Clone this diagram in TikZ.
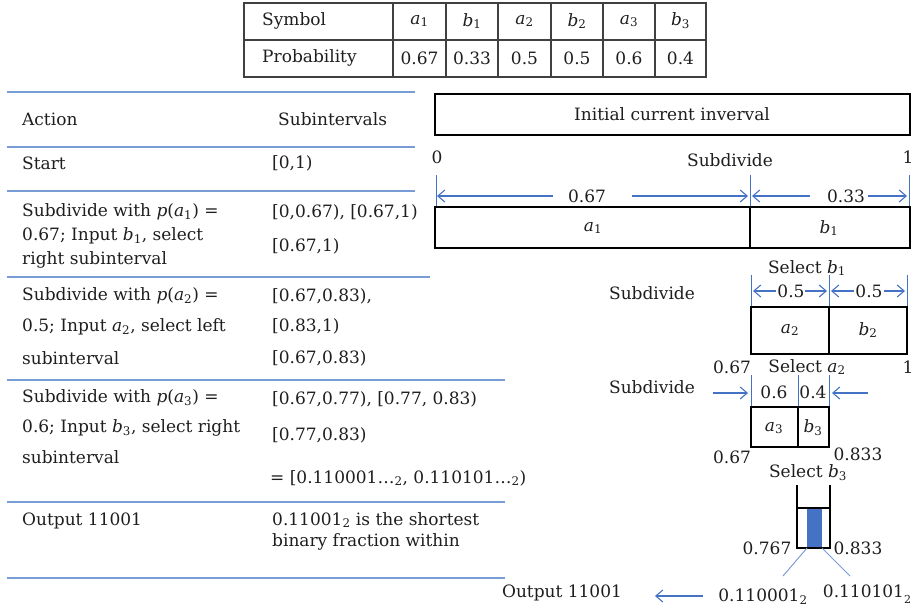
\documentclass[tikz,border=0pt]{standalone}
\usepackage{fontspec}
\setmainfont{DejaVu Serif}
\usetikzlibrary{arrows.meta}
\definecolor{rulec}{RGB}{120,156,212}
\definecolor{dimblue}{RGB}{68,114,196}
\definecolor{ink}{RGB}{30,30,30}
% italic symbol with a subscript index
\newcommand{\sym}[2]{\textit{#1}\textsubscript{#2}}
\begin{document}
\begin{tikzpicture}[x=1pt,y=-1pt,
  every node/.style={inner sep=0pt, text=ink},
  lbl/.style={font=\fontsize{17}{20}\selectfont},
  lft/.style={lbl, anchor=west},
  tablerule/.style={draw=rulec, line width=1.7pt},
  gridline/.style={draw=black!75, line width=1.4pt},
  bar/.style={draw=black, line width=1.5pt},
  tick/.style={draw=dimblue, line width=1pt},
  dimarrow/.style={tick, line width=1.1pt, -{Straight Barb[length=7pt,width=12pt]}},
  leader/.style={draw=rulec, line width=1pt}]
\useasboundingbox (0,0) rectangle (916,611);

% ---------- probability table ----------
\draw[gridline] (244,3) rectangle (706,77);
\draw[gridline] (244,40) -- (706,40);
\foreach \x in {393,446,498,551,603,655} \draw[gridline] (\x,3) -- (\x,77);
\node[lft] (symb) at (262,21) {Symbol};
\node[lft] (prob) at (262,58) {Probability};
\foreach \c/\s/\k/\p [count=\i] in {419.5/a/1/0.67, 472/b/1/0.33, 524.5/a/2/0.5,
                                  577/b/2/0.5, 629/a/3/0.6, 680.5/b/3/0.4} {
  \node[lbl] (s\i) at (\c,21) {\sym{\s}{\k}};
  \node[lbl] (p\i) at (\c,58) {\p};
}

% ---------- action table ----------
\draw[tablerule] (7,92) -- (415,92);
\draw[tablerule] (7,147) -- (415,147);
\draw[tablerule] (7,191) -- (415,191);
\draw[tablerule] (7,277) -- (430,277);
\draw[tablerule] (7,380) -- (505,380);
\draw[tablerule] (7,502) -- (505,502);
\draw[tablerule] (7,578) -- (505,578);

\node[lft] (hA) at (22,119) {Action};
\node[lft] (hS) at (278,119) {Subintervals};
\node[lft] (r1a) at (22,163) {Start};
\node[lft] (r1s) at (272,163) {[0,1)};

\node[lft] (r2a) at (22,212) {Subdivide with \textit{p}(\sym{a}{1}) =};
\node[lft] (r2b) at (22,236) {0.67; Input \sym{b}{1}, select};
\node[lft] (r2c) at (22,260) {right subinterval};
\node[lft] (r2s) at (272,212) {[0,0.67), [0.67,1)};
\node[lft] (r2t) at (272,246) {[0.67,1)};

\node[lft] (r3a) at (22,296) {Subdivide with \textit{p}(\sym{a}{2}) =};
\node[lft] (r3b) at (22,327) {0.5; Input \sym{a}{2}, select left};
\node[lft] (r3c) at (22,358) {subinterval};
\node[lft] (r3s) at (272,296) {[0.67,0.83),};
\node[lft] (r3t) at (272,326) {[0.83,1)};
\node[lft] (r3u) at (272,358) {[0.67,0.83)};

\node[lft] (r4a) at (22,398) {Subdivide with \textit{p}(\sym{a}{3}) =};
\node[lft] (r4b) at (22,428) {0.6; Input \sym{b}{3}, select right};
\node[lft] (r4c) at (22,457) {subinterval};
\node[lft] (r4s) at (272,399) {[0.67,0.77), [0.77, 0.83)};
\node[lft] (r4t) at (272,435) {[0.77,0.83)};
\node[lft] (r4u) at (270,478) {= [0.110001\ldots\textsubscript{2}, 0.110101\ldots\textsubscript{2})};

\node[lft] (r5a) at (22,521) {Output 11001};
\node[lft] (r5s) at (272,520) {0.11001\textsubscript{2} is the shortest};
\node[lft] (r5t) at (272,542) {binary fraction within};

% ---------- interval diagram: level 1 ----------
\draw[bar] (435,94) rectangle (910,135);
\node[lbl] (init) at (672,114) {Initial current inverval};
\node[lbl] (zero) at (437,157) {0};
\node[lbl] (subA) at (730,160) {Subdivide};
\node[lbl] (oneA) at (908,157) {1};
\draw[tick] (436,175) -- (436,207);
\draw[tick] (750,175) -- (750,207);
\draw[tick] (909,175) -- (909,207);
\node[lbl] (d067) at (587,196) {0.67};
\node[lbl] (d033) at (846,196) {0.33};
\coordinate (e1) at (553,196); \coordinate (e1t) at (437,196);
\coordinate (e2) at (632,196); \coordinate (e2t) at (748,196);
\coordinate (e3) at (810,196); \coordinate (e3t) at (752,196);
\coordinate (e4) at (868,196); \coordinate (e4t) at (907,196);
\draw[dimarrow] (e1) -- (e1t);
\draw[dimarrow] (e2) -- (e2t);
\draw[dimarrow] (e3) -- (e3t);
\draw[dimarrow] (e4) -- (e4t);
\draw[bar] (435,207) rectangle (910,248);
\draw[bar] (750,207) -- (750,248);
\node[lbl] (a1) at (593,228) {\sym{a}{1}};
\node[lbl] (b1) at (829,228) {\sym{b}{1}};

% ---------- level 2 ----------
\node[lbl] (selB1) at (807,268) {Select \sym{b}{1}};
\node[lbl] (subB) at (652,293) {Subdivide};
\draw[tick] (751,275) -- (751,307);
\draw[tick] (829,275) -- (829,307);
\draw[tick] (907,275) -- (907,307);
\node[lbl] (d05a) at (791,291) {0.5};
\node[lbl] (d05b) at (869,291) {0.5};
\coordinate (f1) at (776,291); \coordinate (f1t) at (753,291);
\coordinate (f2) at (805,291); \coordinate (f2t) at (827,291);
\coordinate (f3) at (854,291); \coordinate (f3t) at (831,291);
\coordinate (f4) at (884,291); \coordinate (f4t) at (905,291);
\draw[dimarrow] (f1) -- (f1t);
\draw[dimarrow] (f2) -- (f2t);
\draw[dimarrow] (f3) -- (f3t);
\draw[dimarrow] (f4) -- (f4t);
\draw[bar] (751,307) rectangle (907,354);
\draw[bar] (829,307) -- (829,354);
\node[lbl] (a2) at (790,330) {\sym{a}{2}};
\node[lbl] (b2) at (868,330) {\sym{b}{2}};

% ---------- level 3 ----------
\node[lbl] (lo3) at (732,367) {0.67};
\node[lbl] (selA2) at (807,367) {Select \sym{a}{2}};
\node[lbl] (hi3) at (908,367) {1};
\node[lbl] (subC) at (652,387) {Subdivide};
\draw[tick] (751,375) -- (751,407);
\draw[tick] (798,375) -- (798,407);
\draw[tick] (829,375) -- (829,407);
\node[lbl] (d06) at (774,392) {0.6};
\node[lbl] (d04) at (813,392) {0.4};
\coordinate (g1) at (713,393); \coordinate (g1t) at (748,393);
\coordinate (g2) at (868,393); \coordinate (g2t) at (832,393);
\draw[dimarrow] (g1) -- (g1t);
\draw[dimarrow] (g2) -- (g2t);
\draw[bar] (751,407) rectangle (829,447);
\draw[bar] (798,407) -- (798,447);
\node[lbl] (a3) at (774,428) {\sym{a}{3}};
\node[lbl] (b3) at (813,428) {\sym{b}{3}};
\node[lbl] (lo4) at (732,457) {0.67};
\node[lbl] (hi4) at (858,454) {0.833};

% ---------- level 4 ----------
\node[lbl] (selB3) at (808,473) {Select \sym{b}{3}};
\draw[bar] (797,485) -- (797,508);
\draw[bar] (830,485) -- (830,508);
\fill[dimblue] (807,508) rectangle (822,548);
\draw[bar] (797,508) rectangle (830,548);
\node[lbl] (lo5) at (767,548) {0.767};
\node[lbl] (hi5) at (858,548) {0.833};
\coordinate (m1) at (807,548); \coordinate (m1e) at (783,576);
\coordinate (m2) at (822,548); \coordinate (m2e) at (850,576);
\draw[leader] (m1) -- (m1e);
\draw[leader] (m2) -- (m2e);
\node[lbl] (binlo) at (763,597) {0.110001\textsubscript{2}};
\node[lbl] (binhi) at (867,594) {0.110101\raisebox{-6pt}{\fontsize{11}{11}\selectfont 2}};
\node[lbl] (outp) at (562,593) {Output 11001};
\coordinate (o1) at (703,596); \coordinate (o1t) at (655,596);
\draw[dimarrow] (o1) -- (o1t);
\end{tikzpicture}
\end{document}
